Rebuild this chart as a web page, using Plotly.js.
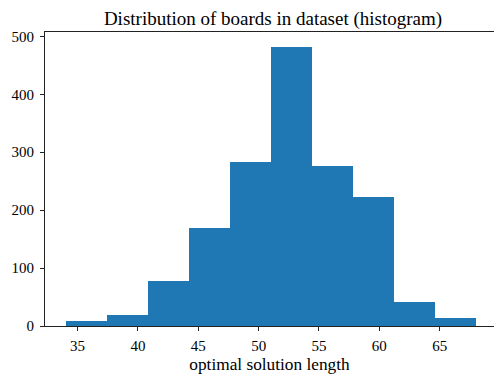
<!DOCTYPE html>
<html>
<head>
<meta charset="utf-8">
<script src="https://cdn.plot.ly/plotly-3.0.1.min.js"></script>
<style>html,body{margin:0;padding:0;background:#fff;overflow:hidden}#chart{width:494px;height:374px}</style>
</head>
<body>
<div id="chart"></div>
<script>
// Histogram bin edges (optimal solution length) and counts per bin
const binEdges = [34, 37.4, 40.8, 44.2, 47.6, 51, 54.4, 57.8, 61.2, 64.6, 68];
const counts = [8, 19, 78, 170, 283, 482, 277, 223, 42, 13];
const xTicks = [35, 40, 45, 50, 55, 60, 65];
const yTicks = [0, 100, 200, 300, 400, 500];

const centers = counts.map((_, i) => (binEdges[i] + binEdges[i + 1]) / 2);
const widths = counts.map((_, i) => binEdges[i + 1] - binEdges[i]);

const font = 'Liberation Serif, Times New Roman, serif';

const trace = {
  type: 'bar',
  x: centers,
  y: counts,
  width: widths,
  marker: {color: '#1f77b4', line: {width: 0}},
  hoverinfo: 'x+y'
};

const layout = {
  width: 494,
  height: 374,
  margin: {l: 45, r: 0, t: 32, b: 48},
  paper_bgcolor: '#ffffff',
  plot_bgcolor: '#ffffff',
  showlegend: false,
  bargap: 0,
  font: {family: font, size: 15, color: '#000'},
  title: {
    text: 'Distribution of boards in dataset (histogram)',
    font: {family: font, size: 19, color: '#000'},
    x: 273 / 494,
    xanchor: 'center',
    xref: 'container',
    y: 1 - 18 / 374,
    yanchor: 'middle',
    yref: 'container'
  },
  xaxis: {
    range: [32.3, 69.5],
    tickvals: xTicks,
    ticktext: xTicks.map(String),
    ticks: 'outside',
    ticklen: 4,
    tickwidth: 1,
    tickcolor: '#222',
    showline: true,
    linecolor: '#222',
    linewidth: 1,
    mirror: true,
    showgrid: false,
    zeroline: false,
    ticklabelstandoff: 2,
    tickfont: {family: font, size: 15, color: '#000'},
    title: {text: 'optimal solution length', font: {family: font, size: 17.3, color: '#000'}, standoff: 4},
    automargin: false
  },
  yaxis: {
    range: [0, 507.5],
    tickvals: yTicks,
    ticktext: yTicks.map(String),
    ticks: 'outside',
    ticklen: 4,
    tickwidth: 1,
    tickcolor: '#222',
    showline: true,
    linecolor: '#222',
    linewidth: 1,
    mirror: false,
    showgrid: false,
    zeroline: false,
    ticklabelstandoff: 3,
    tickfont: {family: font, size: 15, color: '#000'},
    automargin: false
  }
};

Plotly.newPlot('chart', [trace], layout, {displayModeBar: false, staticPlot: true});
</script>
</body>
</html>
